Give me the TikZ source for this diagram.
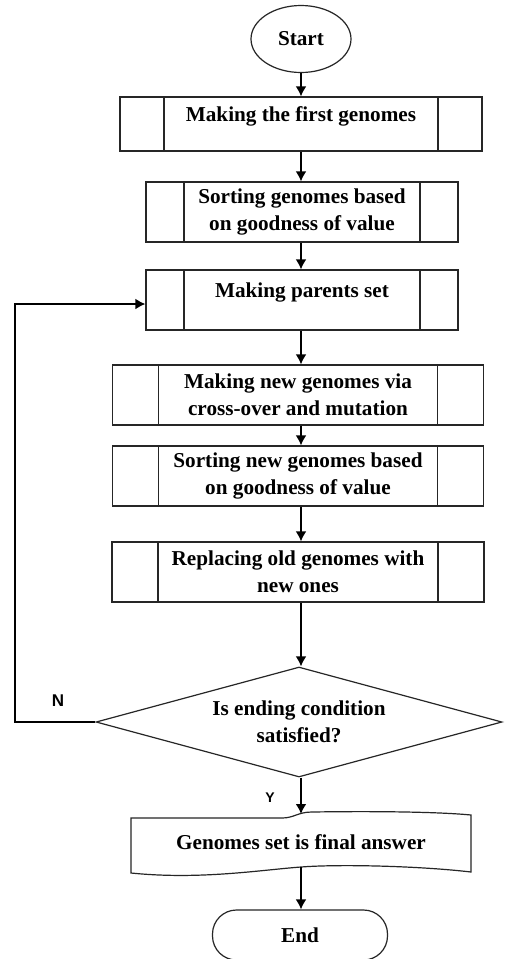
\documentclass[tikz,border=0pt]{standalone}
\usepackage{fontspec}
\setmainfont{Liberation Serif}
\newfontfamily\labelfont{Liberation Sans}
\usetikzlibrary{shapes,arrows.meta,calc}
\pgfdeclarelayer{background}
\pgfdeclarelayer{main}
\pgfsetlayers{background,main}

\newcommand{\flowfont}{\fontsize{21.2}{27}\selectfont\bfseries}

\tikzset{
  boxline/.style={draw=black!85, line width=1.2pt},
  subproc/.style 2 args={boxline, rectangle, minimum width=#1, minimum height=60pt,
    inner sep=0pt, align=center, font=\flowfont,
    path picture={
      \draw[boxline] ([xshift=#2]path picture bounding box.north west) -- ([xshift=#2]path picture bounding box.south west);
      \draw[boxline] ([xshift=-#2]path picture bounding box.north east) -- ([xshift=-#2]path picture bounding box.south east);
    }},
  arr/.style={-{Latex[length=10pt,width=11pt]}, line width=2.9pt},
}

\begin{document}
\begin{tikzpicture}[x=1pt, y=-1pt]

\begin{pgfonlayer}{background}
\fill[white] (0,0) rectangle (505,959);
\end{pgfonlayer}
\useasboundingbox (0,0) rectangle (505,959);

% start and the process steps
\node[ellipse, boxline, minimum width=100pt, minimum height=67pt, font=\flowfont] (start) at (301,39) {Start};
\node[subproc={362pt}{44pt}, minimum height=54pt] (first) at (301,124) {Making the first genomes\\[-8pt]\mbox{}};
\node[subproc={312pt}{38pt}] (sortold) at (302,212) {Sorting genomes based\\on goodness of value};
\node[subproc={312pt}{38pt}] (parents) at (302,300) {Making parents set\\[-8pt]\mbox{}};
\node[subproc={371pt}{46pt}] (newgen) at (298,395) {Making new genomes via\\cross-over and mutation};
\node[subproc={371pt}{46pt}] (sortnew) at (298,476) {Sorting new genomes based\\on goodness of value};
\node[subproc={372pt}{46pt}] (replace) at (298,572) {Replacing old genomes with\\new ones};

% decision
\node[diamond, aspect=3.7, boxline, minimum width=406pt, minimum height=110pt, inner sep=0pt,
  align=center, font=\flowfont] (cond) at (299,722) {Is ending condition\\satisfied?};

% output document
\node[font=\flowfont] (answer) at (301,842) {Genomes set is final answer};
\coordinate (anstop) at (301,814);
\coordinate (ansbot) at (301,867);
\draw[boxline] (131,818) -- (282,818) .. controls (294,818) and (298,812) .. (312,812)
  .. controls (380,811) and (440,812) .. (471,815) -- (471,872)
  .. controls (420,866) and (340,864) .. (301,867)
  .. controls (260,870) and (200,880) .. (131,873) -- cycle;

\node[boxline, rounded corners=24pt, minimum width=175pt, minimum height=50pt, font=\flowfont] (finish) at (300,935) {End};

\draw[arr] (start) -- (first);
\draw[arr] (first) -- (first.south |- sortold.north);
\draw[arr] (sortold.south -| first) -- (first |- parents.north);
\draw[arr] (parents.south -| first) -- (first |- newgen.north);
\draw[arr] (newgen.south -| first) -- (first |- sortnew.north);
\draw[arr] (sortnew.south -| first) -- (first |- replace.north);
\draw[arr] (replace.south -| first) -- (first |- cond.north);
\draw[arr] (cond.south -| first) -- (anstop);
\draw[arr] (ansbot) -- (finish.north -| first);

% loop back
\coordinate (back) at (15,722);
\draw[arr] (cond.west) -- (back) |- ($(parents.west)+(0,4)$);

\node[font=\labelfont\bfseries\fontsize{17}{17}\selectfont] (no) at (58,701) {N};
\node[font=\labelfont\bfseries\fontsize{14}{14}\selectfont] (yes) at (270,798) {Y};

\end{tikzpicture}
\end{document}
